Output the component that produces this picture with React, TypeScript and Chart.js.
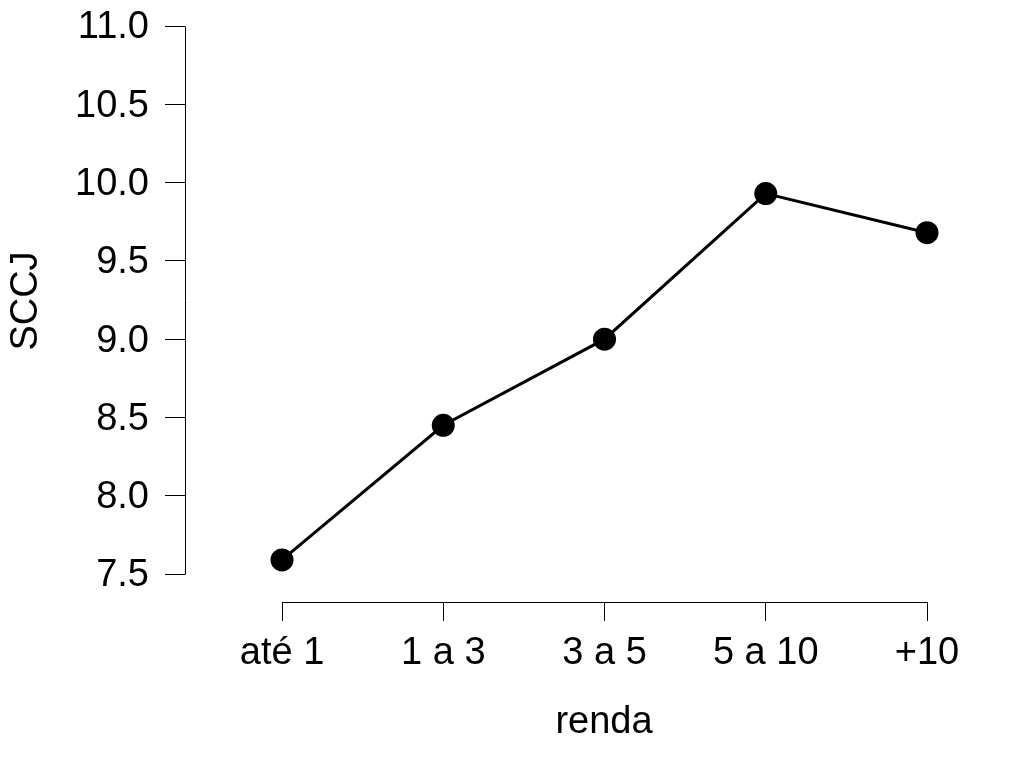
import React, { useEffect, useRef } from "react";
import { Chart, registerables } from "chart.js";

Chart.register(...registerables);

const categories = ["até 1", "1 a 3", "3 a 5", "5 a 10", "+10"];
const sccjValues = [7.59, 8.45, 9.0, 9.93, 9.68];
const yTickMin = 7.5;
const yTickMax = 11.0;

const FONT = "'Liberation Sans', Arial, Helvetica, sans-serif";
const FSIZE = 38;

const axisLinesPlugin = {
  id: "rAxisLines",
  afterDraw(chart: any) {
    const { ctx, chartArea, scales } = chart;
    const xs = scales.x;
    const ys = scales.y;
    ctx.save();
    ctx.strokeStyle = "#000";
    ctx.lineWidth = 1;
    ctx.beginPath();
    const ax = Math.round(chartArea.left) + 0.5;
    ctx.moveTo(ax, Math.round(ys.getPixelForValue(yTickMin)) + 0.5);
    ctx.lineTo(ax, Math.round(ys.getPixelForValue(yTickMax)) + 0.5);
    const by = Math.round(chartArea.bottom) + 0.5;
    ctx.moveTo(Math.round(xs.getPixelForValue(0)) + 0.5, by);
    ctx.lineTo(Math.round(xs.getPixelForValue(categories.length - 1)) + 0.5, by);
    ctx.stroke();
    ctx.restore();
  },
};

const zeroPad = (scale: any) => {
  scale.paddingTop = 0;
  scale.paddingBottom = 0;
  scale.paddingLeft = 0;
  scale.paddingRight = 0;
};

export default function App() {
  const ref = useRef<HTMLCanvasElement | null>(null);

  useEffect(() => {
    if (!ref.current) return;
    const chart = new Chart(ref.current, {
      type: "line",
      data: {
        datasets: [
          {
            data: sccjValues.map((v, i) => ({ x: i, y: v })),
            borderColor: "#000",
            borderWidth: 3,
            pointRadius: 11.5,
            pointBackgroundColor: "#000",
            pointBorderWidth: 0,
            pointHoverRadius: 11.5,
            tension: 0,
            clip: false as any,
          },
        ],
      },
      options: {
        animation: false,
        responsive: false,
        layout: { autoPadding: false, padding: { top: 0, right: 1, left: 0, bottom: 0 } },
        plugins: { legend: { display: false }, tooltip: { enabled: false } },
        scales: {
          x: {
            type: "linear",
            min: -0.6016,
            max: 4.5953,
            border: { display: false },
            grid: {
              drawOnChartArea: false,
              drawTicks: true,
              tickLength: 19,
              color: "#000",
              lineWidth: 1,
            },
            ticks: {
              stepSize: 1,
              includeBounds: false,
              autoSkip: false,
              maxRotation: 0,
              padding: 10,
              color: "#000",
              font: { family: FONT, size: FSIZE },
              callback: (v: any) =>
                Number.isInteger(v) && categories[v] !== undefined ? categories[v] : "",
            },
            title: {
              display: true,
              text: "renda",
              color: "#000",
              font: { family: FONT, size: FSIZE },
              padding: { top: 0, bottom: 14 },
            },
            afterFit: (scale: any) => {
              scale.height = 157;
              zeroPad(scale);
            },
          },
          y: {
            type: "linear",
            min: 7.3212,
            max: 11.1661,
            border: { display: false },
            grid: {
              drawOnChartArea: false,
              drawTicks: true,
              tickLength: 20,
              color: "#000",
              lineWidth: 1,
            },
            ticks: {
              stepSize: 0.5,
              includeBounds: false,
              padding: 16,
              labelOffset: 2,
              color: "#000",
              font: { family: FONT, size: FSIZE },
              callback: (v: any) => Number(v).toFixed(1),
            },
            title: {
              display: true,
              text: "SCCJ",
              color: "#000",
              font: { family: FONT, size: FSIZE },
              padding: { top: 4, bottom: 0 },
            },
            afterFit: (scale: any) => {
              scale.width = 185;
              zeroPad(scale);
            },
          },
        },
      },
      plugins: [axisLinesPlugin],
    });
    return () => chart.destroy();
  }, []);

  return (
    <div style={{ position: "absolute", left: 0, top: 0, width: 1024, height: 759, background: "#fff" }}>
      <canvas ref={ref} width={1024} height={759} style={{ display: "block" }} />
    </div>
  );
}
